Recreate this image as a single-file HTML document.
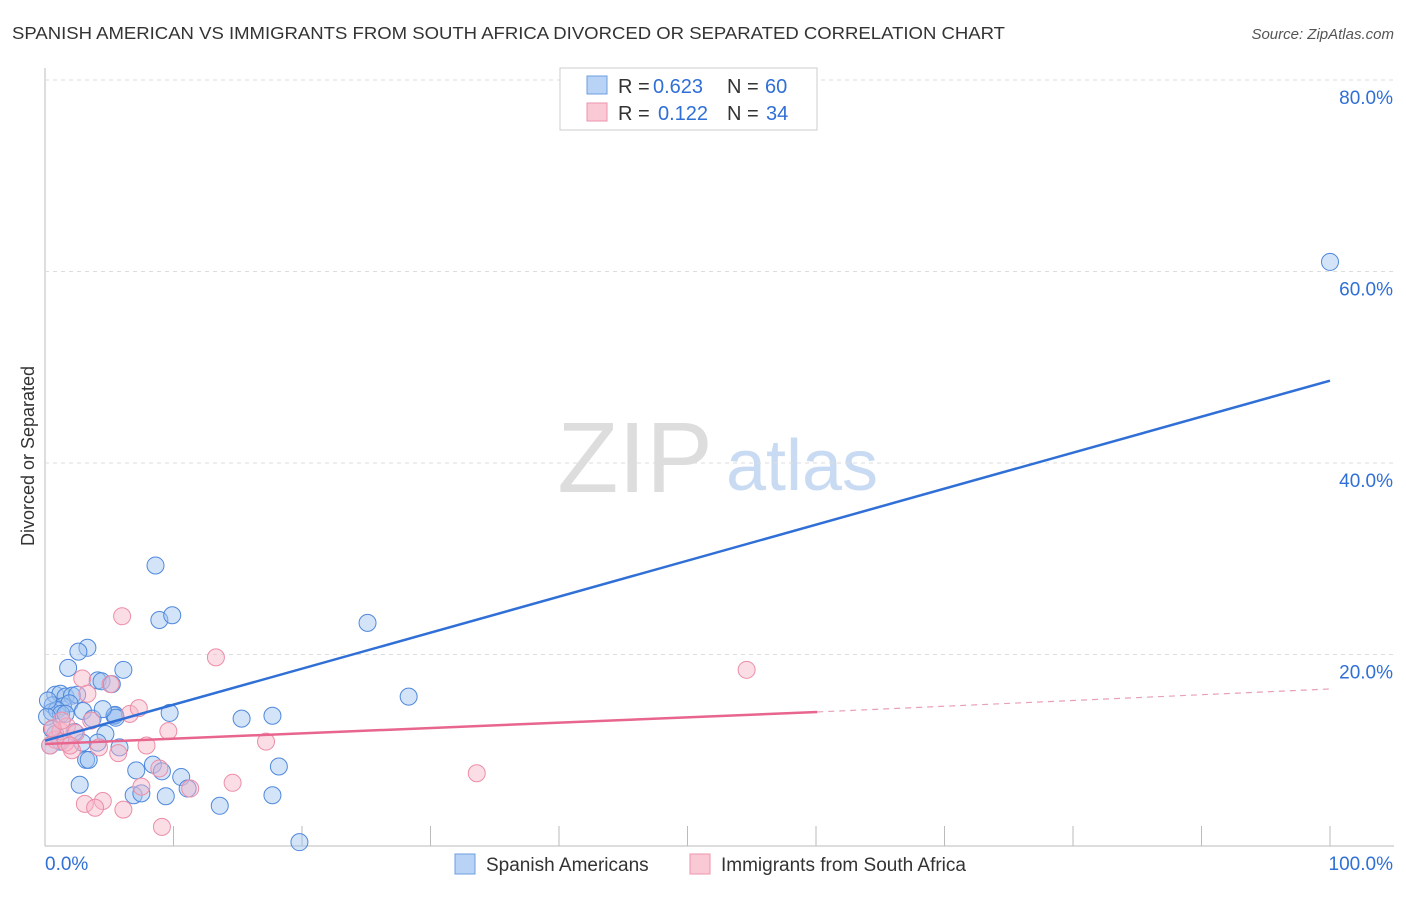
<!DOCTYPE html>
<html><head><meta charset="utf-8"><style>
body{margin:0;background:#fff;font-family:"Liberation Sans",sans-serif}
svg text{font-family:"Liberation Sans",sans-serif}
</style></head><body>
<svg id="c" width="1406" height="892">
<text x="12" y="39" font-size="17.5" fill="#333" textLength="993" lengthAdjust="spacingAndGlyphs">SPANISH AMERICAN VS IMMIGRANTS FROM SOUTH AFRICA DIVORCED OR SEPARATED CORRELATION CHART</text>
<text x="1394" y="39" font-size="15" fill="#555" font-style="italic" text-anchor="end">Source: ZipAtlas.com</text>
<text x="635" y="492" font-size="100" fill="#ddd" font-family="Liberation Serif" text-anchor="middle">ZIP</text>
<text x="802" y="490" font-size="72" fill="#c9dbf3" text-anchor="middle">atlas</text>
<text transform="translate(34,456) rotate(-90)" font-size="18" fill="#333" text-anchor="middle">Divorced or Separated</text>
<g id="grid"></g><g id="pts"></g><g id="lines"></g>
<g>
<rect x="560" y="68" width="257" height="62" fill="#fff" stroke="#ccc"/>
<rect x="587" y="76" width="20" height="18" fill="#b8d3f5" stroke="#6d9fe0"/>
<rect x="587" y="103" width="20" height="18" fill="#f9c9d6" stroke="#ee93ac"/>
<g font-size="20" fill="#333">
<text x="618" y="93">R =</text><text x="653" y="93" fill="#2f6fd6">0.623</text><text x="727" y="93">N =</text><text x="765" y="93" fill="#2f6fd6">60</text>
<text x="618" y="120">R =</text><text x="658" y="120" fill="#2f6fd6">0.122</text><text x="727" y="120">N =</text><text x="766" y="120" fill="#2f6fd6">34</text>
</g>
</g>
<g>
<rect x="455" y="854" width="20" height="20" fill="#b8d3f5" stroke="#6d9fe0"/>
<text x="486" y="871" font-size="19" fill="#333">Spanish Americans</text>
<rect x="690" y="854" width="20" height="20" fill="#f9c9d6" stroke="#ee93ac"/>
<text x="721" y="871" font-size="19" fill="#333">Immigrants from South Africa</text>
</g>
</svg>
<script>
const yTicks=[20,40,60,80];
const xTickLabels=["0.0%","100.0%"];
const blueX=[100,8.6,8.9,9.9,25.1,3.3,2.6,1.8,6.1,28.3,4.1,4.4,5.2,0.8,1.2,1.6,2.1,2.5,0.6,1.4,1.9,2.96,9.7,15.3,17.7,5.4,5.45,0.54,0.93,1.25,0.16,3.7,5.5,4.7,0.8,5.8,4.1,2.9,3.2,3.4,8.4,9.1,10.6,18.2,7.1,2.7,6.9,7.5,9.4,11.1,13.6,17.7,19.8,0.54,1.6,2.3,1.2,0.4,4.5,0.23];
const blueY=[61.0,29.3,23.6,24.1,23.3,20.7,20.3,18.6,18.4,15.6,17.3,17.2,16.9,15.8,15.9,15.6,15.7,15.8,14.7,14.6,14.9,14.1,13.9,13.3,13.6,13.6,13.7,14.0,14.2,13.8,13.5,13.3,13.4,11.7,11.7,10.3,10.8,10.8,9.0,9.0,8.5,7.8,7.2,8.3,7.9,6.4,5.3,5.5,5.2,6.0,4.2,5.3,0.4,12.2,13.8,11.9,10.9,10.5,14.3,15.2];
const pinkX=[6.0,13.3,54.6,2.9,5.1,6.6,7.3,3.3,9.6,17.2,7.9,33.6,14.6,8.9,7.5,11.3,4.5,3.1,3.9,6.1,9.1,2.1,4.2,5.7,0.8,1.2,1.7,0.4,2.4,3.6,1.6,0.6,1.3,1.95];
const pinkY=[24.0,19.7,18.4,17.5,16.9,13.8,14.4,15.9,12.0,10.9,10.5,7.6,6.6,8.1,6.2,6.0,4.7,4.4,4.0,3.8,2.0,10.0,10.3,9.7,11.1,12.0,12.5,10.5,11.8,13.1,10.8,12.3,13.1,10.5];
const blueLine=[11.0,48.6];
const pinkLine=[10.65,14.0,16.4];
const pinkSolidEnd=60.1;
const sx=v=>45+v*12.85, sy=v=>846-v*9.575;
const NS="http://www.w3.org/2000/svg";
function mk(t,a,p){const e=document.createElementNS(NS,t);for(const k in a)e.setAttribute(k,a[k]);p.appendChild(e);return e;}
const grid=document.getElementById('grid');
mk('line',{x1:45,y1:68,x2:45,y2:846,stroke:'#bbb'},grid);
mk('line',{x1:45,y1:846,x2:1394,y2:846,stroke:'#bbb'},grid);
yTicks.forEach(t=>{
 const l=mk('line',{x1:45,y1:sy(t),x2:1394,y2:sy(t),stroke:'#ddd','stroke-dasharray':'4,4'},grid);
 
 
 const tx=mk('text',{x:1393,y:sy(t)+24,'font-size':19,fill:'#2f6fd6','text-anchor':'end'},grid);
 tx.textContent=t.toFixed(1)+'%';
 
 
});
for(let i=1;i<=10;i++){const x=sx(i*10);mk('line',{x1:x,y1:826,x2:x,y2:846,stroke:'#bbb'},grid);}
const xl0=mk('text',{x:45,y:870,'font-size':19,fill:'#2f6fd6'},grid);xl0.textContent=xTickLabels[0];


const xl1=mk('text',{x:1393,y:870,'font-size':19,fill:'#2f6fd6','text-anchor':'end'},grid);xl1.textContent=xTickLabels[1];


const pts=document.getElementById('pts');
blueX.forEach((x,i)=>{const c=mk('circle',{cx:sx(x),cy:sy(blueY[i]),r:8.5,fill:'rgba(160,196,240,0.45)',stroke:'#4f88dc','stroke-width':1},pts);
 
 });
pinkX.forEach((x,i)=>{const c=mk('circle',{cx:sx(x),cy:sy(pinkY[i]),r:8.5,fill:'rgba(247,180,200,0.45)',stroke:'#ec8ea8','stroke-width':1},pts);
 
 });
const lines=document.getElementById('lines');
const bl=mk('line',{x1:sx(0),y1:sy(blueLine[0]),x2:sx(100),y2:sy(blueLine[1]),stroke:'#2f6fd6','stroke-width':2.5},lines);


const pl=mk('line',{x1:sx(0),y1:sy(pinkLine[0]),x2:sx(pinkSolidEnd),y2:sy(pinkLine[1]),stroke:'#e8658e','stroke-width':2.5},lines);


const pd=mk('line',{x1:sx(pinkSolidEnd),y1:sy(pinkLine[1]),x2:sx(100),y2:sy(pinkLine[2]),stroke:'#e8a0b6','stroke-width':1.2,'stroke-dasharray':'6,5'},lines);


</script>
</body></html>
